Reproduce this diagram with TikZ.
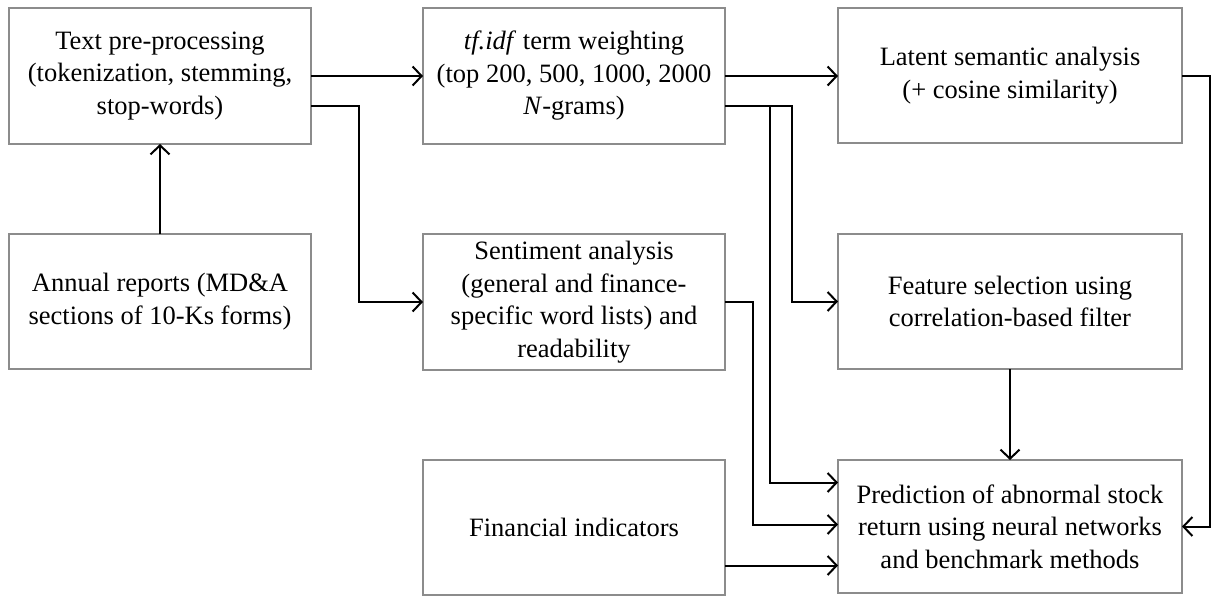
\documentclass[tikz,border=0pt]{standalone}
\usepackage{fontspec}
\setmainfont{Liberation Serif}
\usetikzlibrary{arrows.meta,calc}
\begin{document}
\begin{tikzpicture}[x=1pt,y=-1pt,
  box/.style={draw=black!45,line width=1.2pt,inner sep=0pt,outer sep=0pt,align=center,
    font=\fontsize{26.5}{32.5}\selectfont},
  conn/.style={draw=black,line width=2pt,-{Straight Barb[length=9pt,width=19pt,line width=2pt]}},
]
\useasboundingbox (0,0) rectangle (1212,597);
\node[box,minimum width=302pt,minimum height=136pt] (A) at (160,76) {Text pre-processing\\(tokenization, stemming,\\stop-words)};
\node[box,minimum width=302pt,minimum height=135pt] (B) at (160,301.5) {Annual reports (MD\&A\\sections of 10-Ks forms)};
\node[box,minimum width=302pt,minimum height=136pt] (C) at (574,76) {\textit{tf.idf} term weighting\\(top 200, 500, 1000, 2000\\\textit{N}-grams)};
\node[box,minimum width=302pt,minimum height=136pt] (D) at (574,302) {Sentiment analysis\\(general and finance-\\specific word lists) and\\readability};
\node[box,minimum width=302pt,minimum height=135pt] (G) at (574,527.5) {Financial indicators};
\node[box,minimum width=344pt,minimum height=135pt] (E) at (1010,75.5) {Latent semantic analysis\\(+ cosine similarity)};
\node[box,minimum width=344pt,minimum height=135pt] (F) at (1010,301.5) {Feature selection using\\correlation-based filter};
\node[box,minimum width=344pt,minimum height=133pt] (H) at (1010,526.5) {Prediction of abnormal stock\\return using neural networks\\and benchmark methods};

\draw[conn] (B.north) -- (A.south);
\draw[conn] (A.east) -- (A.east -| C.west);
\draw[conn] ([yshift=-30pt]A.east) -- ++(48,0) |- (D.west);
\draw[conn] (C.east) -- (C.east -| E.west);
\draw[conn] ([yshift=-30pt]C.east) -- ++(67,0) |- (F.west);
\draw[conn] ([yshift=-30pt]C.east) -- ++(45,0) |- ([yshift=44pt]H.west);
\draw[conn] (D.east) -- ++(28,0) |- ([yshift=2pt]H.west);
\draw[conn] ([yshift=-38pt]G.east) -- ([yshift=-38pt]G.east -| H.west);
\draw[conn] (F.south) -- (H.north);
\draw[conn] (E.east) -- ++(28,0) |- (H.east);
\end{tikzpicture}
\end{document}
